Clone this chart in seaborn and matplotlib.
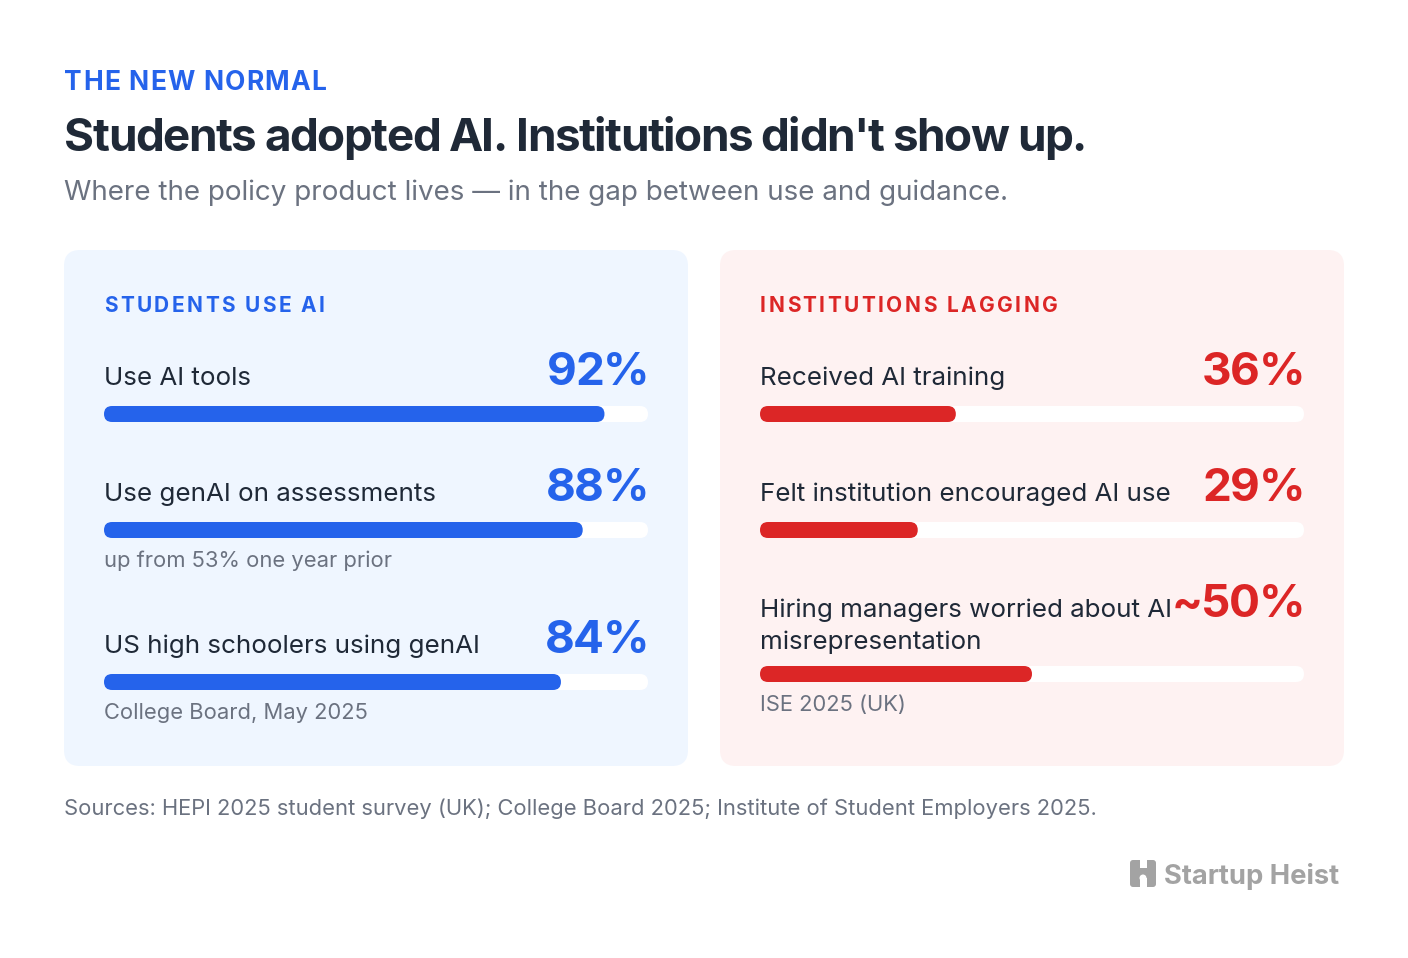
import numpy as np
import pandas as pd
import matplotlib
matplotlib.use("Agg")
import matplotlib.pyplot as plt
from matplotlib.patches import FancyBboxPatch, Rectangle, Circle
import seaborn as sns

sns.set_theme(style="white")
plt.rcParams['font.family'] = ['Inter', 'DejaVu Sans']

# ---- data ----
kicker = 'THE NEW NORMAL'
title = "Students adopted AI. Institutions didn't show up."
subtitle = 'Where the policy product lives — in the gap between use and guidance.'
sources = 'Sources: HEPI 2025 student survey (UK); College Board 2025; Institute of Student Employers 2025.'
brand = 'Startup Heist'

student_header = 'STUDENTS USE AI'
student_labels = ['Use AI tools', 'Use genAI on assessments', 'US high schoolers using genAI']
student_values = [92, 88, 84]
student_shown = ['92%', '88%', '84%']
student_notes = ['', 'up from 53% one year prior', 'College Board, May 2025']

inst_header = 'INSTITUTIONS LAGGING'
inst_labels = ['Received AI training', 'Felt institution encouraged AI use',
               'Hiring managers worried about AI\nmisrepresentation']
inst_values = [36, 29, 50]
inst_shown = ['36%', '29%', '~50%']
inst_notes = ['', '', 'ISE 2025 (UK)']

# ---- style ----
W, H = 1408, 958
BLUE = '#2563eb'
RED = '#dc2626'
INK = '#1f2937'
MUTED = '#6b7280'
LOGO = '#a3a3a3'

fig = plt.figure(figsize=(W / 100, H / 100), dpi=100)
fig.patch.set_facecolor('white')
ax = fig.add_axes([0, 0, 1, 1])
ax.set_xlim(0, W)
ax.set_ylim(H, 0)
ax.axis('off')
renderer = fig.canvas.get_renderer()


def text_width(s, **kw):
    t = ax.text(0, 0, s, **kw)
    bb = t.get_window_extent(renderer=renderer)
    t.remove()
    return bb.width


def tracked(x, y, s, track, ha='left', **kw):
    # draw text with extra letter spacing (px), measured from prefixes
    ref = text_width('H', **kw)
    offs = [text_width(s[:i] + 'H', **kw) - ref + i * track if i else 0.0
            for i in range(len(s))]
    if ha == 'right':
        total = text_width(s + 'H', **kw) - ref + (len(s) - 1) * track
        x = x - total
    for ch, off in zip(s, offs):
        if ch != ' ':
            ax.text(x + off, y, ch, va='baseline', ha='left', **kw)


# header block
tracked(64, 90, kicker, 1.2, fontsize=19, fontweight='bold', color=BLUE)
tracked(64, 151, title, -1.5, fontsize=33, fontweight='bold', color=INK)
ax.text(64, 200, subtitle, fontsize=20, color=MUTED, va='baseline')

panels = [
    dict(x0=64, color='#eff6ff', accent=BLUE, header=student_header,
         labels=student_labels, values=student_values, shown=student_shown,
         notes=student_notes, base=[385, 501, 653], bar_top=[406, 522, 674],
         note_base=[None, 567, 719]),
    dict(x0=720, color='#fef2f2', accent=RED, header=inst_header,
         labels=inst_labels, values=inst_values, shown=inst_shown,
         notes=inst_notes, base=[385, 501, 617], bar_top=[406, 522, 666],
         note_base=[None, None, 711]),
]

PW, PY0, PY1 = 624, 250, 766
BAR_H = 16
PAD = 40

for p in panels:
    x0 = p['x0']
    ax.add_patch(FancyBboxPatch((x0, PY0), PW, PY1 - PY0,
                                boxstyle='round,pad=0,rounding_size=16',
                                fc=p['color'], ec='none', zorder=0))
    lx = x0 + PAD
    rx = x0 + PW - PAD
    tracked(lx, 312, p['header'], 2.45, fontsize=15, fontweight='bold', color=p['accent'])

    for i, lab in enumerate(p['labels']):
        for j, line in enumerate(lab.split('\n')):
            ax.text(lx, p['base'][i] + j * 32, line, fontsize=18.7, color=INK, va='baseline')
        tracked(rx + 1, p['base'][i], p['shown'][i], -1.5, ha='right', fontsize=33,
                fontweight='bold', color=p['accent'])
        if p['note_base'][i] is not None:
            ax.text(lx, p['note_base'][i], p['notes'][i], fontsize=15.8, color=MUTED,
                    va='baseline')

    # bars on their own axes: x in percent, y in pixel rows
    bw = rx - lx
    bax = fig.add_axes([lx / W, 1 - PY1 / H, bw / W, (PY1 - PY0) / H])
    bax.set_facecolor('none')
    centers = np.array(p['bar_top']) + BAR_H / 2
    gap = np.diff(np.sort(centers)).min()
    df = pd.DataFrame({'row': centers, 'value': p['values'], 'track': 100})
    sns.barplot(data=df, x='track', y='row', orient='y', native_scale=True,
                width=BAR_H / gap, color='white', saturation=1, errorbar=None, ax=bax)
    sns.barplot(data=df, x='value', y='row', orient='y', native_scale=True,
                width=BAR_H / gap, color=p['accent'], saturation=1, errorbar=None, ax=bax)
    bax.set_xlim(0, 100)
    bax.set_ylim(PY1, PY0)
    bax.axis('off')

    # round the bar ends
    asp = 1 / (100 / bw)
    r = (BAR_H / 2) * 100 / bw
    for rect in list(bax.patches):
        bx, by = rect.get_x(), rect.get_y()
        w, h = rect.get_width(), rect.get_height()
        fc = rect.get_facecolor()
        rect.remove()
        bax.add_patch(FancyBboxPatch((bx, by), w, h,
                                     boxstyle=f'round,pad=0,rounding_size={r}',
                                     mutation_aspect=asp, fc=fc, ec='none'))

ax.text(64, 815, sources, fontsize=15.8, color=MUTED, va='baseline')

# brand mark
ax.add_patch(FancyBboxPatch((1130, 860), 26, 27, boxstyle='round,pad=0,rounding_size=3',
                            fc=LOGO, ec='none'))
ax.add_patch(Rectangle((1139.5, 859), 7, 9, fc='white', ec='none'))
ax.add_patch(Rectangle((1139.5, 878), 7, 10, fc='white', ec='none'))
ax.add_patch(Circle((1143, 878), 3.5, fc='white', ec='none'))
ax.text(1164, 884, brand, fontsize=19.7, fontweight='bold', color=LOGO, va='baseline')

fig.savefig('out.png', dpi=100, facecolor='white')
